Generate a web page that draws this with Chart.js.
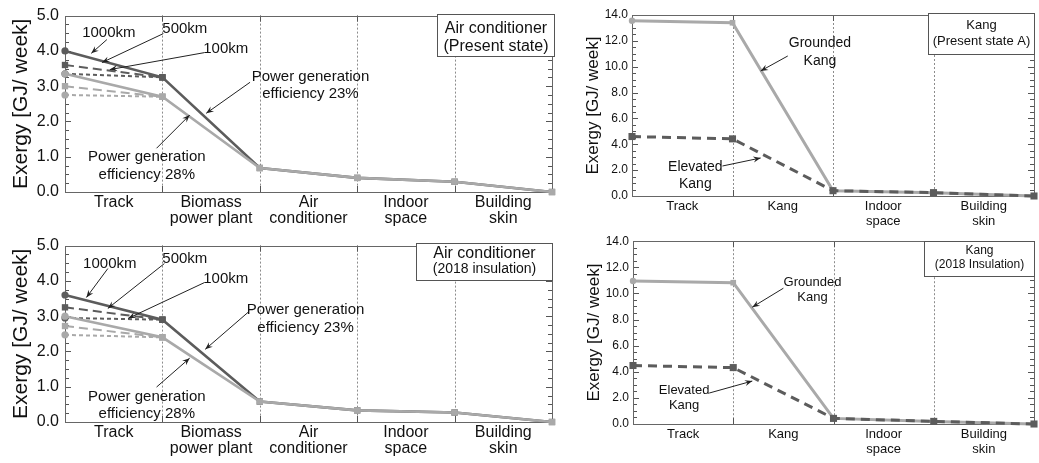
<!DOCTYPE html>
<html><head><meta charset="utf-8">
<script src="https://cdn.jsdelivr.net/npm/chart.js@4/dist/chart.umd.min.js"></script>
<style>
html,body{margin:0;padding:0;background:#fff;}
body{width:1039px;height:463px;position:relative;overflow:hidden;}
.p{position:absolute;}
</style></head><body>
<div class="p" style="left:0;top:0;width:560px;height:230px"><canvas id="c1"></canvas></div>
<div class="p" style="left:560px;top:0;width:479px;height:230px"><canvas id="c2"></canvas></div>
<div class="p" style="left:0;top:230px;width:560px;height:233px"><canvas id="c3"></canvas></div>
<div class="p" style="left:560px;top:230px;width:479px;height:233px"><canvas id="c4"></canvas></div>
<script>
const FONT = "'Liberation Sans', Arial, sans-serif";

// ---- categories ----
const acCategories = ['Track', ['Biomass', 'power plant'], ['Air', 'conditioner'], ['Indoor', 'space'], ['Building', 'skin']];
const kangCategories = ['Track', 'Kang', ['Indoor', 'space'], ['Building', 'skin']];

// ---- Air conditioner (Present state) ----
const acPresent23_1000 = [4.0, 3.25, 0.68, 0.40, 0.29, 0.0];
const acPresent23_500  = [3.6, 3.25];
const acPresent23_100  = [3.35, 3.25];
const acPresent28_1000 = [3.35, 2.7, 0.68, 0.40, 0.29, 0.0];
const acPresent28_500  = [3.0, 2.7];
const acPresent28_100  = [2.75, 2.7];

// ---- Air conditioner (2018 insulation) ----
const ac2018_23_1000 = [3.6, 2.9, 0.58, 0.33, 0.27, 0.0];
const ac2018_23_500  = [3.25, 2.9];
const ac2018_23_100  = [2.95, 2.9];
const ac2018_28_1000 = [3.0, 2.4, 0.58, 0.33, 0.27, 0.0];
const ac2018_28_500  = [2.72, 2.4];
const ac2018_28_100  = [2.47, 2.4];

// ---- Kang ----
const kangPresentGrounded = [13.55, 13.4, 0.41, 0.26, 0.0];
const kangPresentElevated = [4.6, 4.42, 0.41, 0.26, 0.0];
const kang2018Grounded = [10.95, 10.82, 0.43, 0.2, 0.0];
const kang2018Elevated = [4.48, 4.32, 0.43, 0.2, 0.0];

// ---- tick values ----
const acYTicks = [0, 1, 2, 3, 4, 5];
const kangYTicks = [0, 2, 4, 6, 8, 10, 12, 14];

const DARK = '#5c5c5c', LIGHT = '#a9a9a9';

function pts(arr) { return arr.map((v, i) => ({ x: i, y: v })); }
function ds(values, color, width, dash, firstStyle, order, r) {
  return {
    data: pts(values), borderColor: color, backgroundColor: color,
    borderWidth: width, borderDash: dash, order: order,
    pointStyle: values.map((v, i) => i === 0 ? firstStyle : 'rect'),
    pointRadius: values.map((v, i) => (i === 0 && firstStyle === 'circle') ? r * 0.8 : r),
    pointBorderWidth: 0, tension: 0, clip: false, fill: false
  };
}

const decor = {
  id: 'decor',
  beforeDatasetsDraw(chart) {
    const o = chart.options.plugins.decor;
    const { ctx, chartArea: a, scales } = chart;
    const xs = scales.x, ys = scales.y;
    ctx.save();
    ctx.lineWidth = 1;
    ctx.strokeStyle = '#8c8c8c';
    ctx.setLineDash([2, 2]);
    for (let i = 1; i < o.n; i++) {
      const px = Math.round(xs.getPixelForValue(i)) + 0.5;
      ctx.beginPath(); ctx.moveTo(px, a.top); ctx.lineTo(px, a.bottom); ctx.stroke();
    }
    ctx.setLineDash([]);
    ctx.strokeStyle = '#555';
    ctx.beginPath();
    for (let i = 1; i < o.n; i++) {
      const px = Math.round(xs.getPixelForValue(i)) + 0.5;
      ctx.moveTo(px, a.bottom); ctx.lineTo(px, a.bottom - 6);
      ctx.moveTo(px, a.top); ctx.lineTo(px, a.top + 6);
    }
    const steps = Math.round(o.yMax / o.minor);
    for (let k = 0; k <= steps; k++) {
      const v = k * o.minor;
      const py = Math.round(ys.getPixelForValue(v)) + 0.5;
      const major = Math.abs(v / o.major - Math.round(v / o.major)) < 1e-6;
      const len = major ? 6 : 4;
      ctx.moveTo(a.left, py); ctx.lineTo(a.left + len, py);
      ctx.moveTo(a.right, py); ctx.lineTo(a.right - len, py);
    }
    ctx.stroke();
    ctx.strokeStyle = '#666';
    ctx.strokeRect(Math.round(a.left) + 0.5, Math.round(a.top) + 0.5, Math.round(a.right - a.left), Math.round(a.bottom - a.top));
    ctx.restore();
  },
  afterDraw(chart) {
    const o = chart.options.plugins.decor;
    const { ctx, chartArea: a, scales } = chart;
    const xs = scales.x, ys = scales.y;
    ctx.save();
    // label box
    const b = o.box;
    const bl = Math.round(a.right - b.w) + 0.5, bt = Math.round(a.top + b.dy) + 0.5;
    const br = Math.round(a.right + b.dr) + 0.5, bb = Math.round(a.top + b.dy + b.h) + 0.5;
    ctx.fillStyle = '#fff';
    ctx.fillRect(bl, bt, br - bl, bb - bt);
    ctx.strokeStyle = '#555'; ctx.lineWidth = 1;
    ctx.strokeRect(bl, bt, br - bl, bb - bt);
    ctx.fillStyle = '#111'; ctx.textAlign = 'center'; ctx.textBaseline = 'middle';
    b.lines.forEach((ln, i) => {
      ctx.font = b.sizes[i] + 'px ' + FONT;
      ctx.fillText(ln, (bl + br) / 2, a.top + b.ty[i]);
    });
    // annotations
    o.notes.forEach(n => {
      ctx.font = n.size + 'px ' + FONT;
      ctx.fillStyle = '#111';
      const cx = xs.getPixelForValue(n.x), cy = ys.getPixelForValue(n.y);
      n.text.forEach((t, i) => ctx.fillText(t, cx, cy + i * n.lh));
      const x1 = xs.getPixelForValue(n.a[0]), y1 = ys.getPixelForValue(n.a[1]);
      const x2 = xs.getPixelForValue(n.a[2]), y2 = ys.getPixelForValue(n.a[3]);
      ctx.strokeStyle = '#222'; ctx.lineWidth = 1;
      ctx.beginPath(); ctx.moveTo(x1, y1); ctx.lineTo(x2, y2); ctx.stroke();
      const ang = Math.atan2(y2 - y1, x2 - x1), L = 8, s = 0.38;
      ctx.fillStyle = '#222';
      ctx.beginPath();
      ctx.moveTo(x2, y2);
      ctx.lineTo(x2 - L * Math.cos(ang - s), y2 - L * Math.sin(ang - s));
      ctx.lineTo(x2 - L * 0.6 * Math.cos(ang), y2 - L * 0.6 * Math.sin(ang));
      ctx.lineTo(x2 - L * Math.cos(ang + s), y2 - L * Math.sin(ang + s));
      ctx.closePath(); ctx.fill();
    });
    ctx.restore();
  }
};

function makePanel(id, p) {
  const n = p.categories.length;
  return new Chart(document.getElementById(id), {
    type: 'line',
    data: { datasets: p.datasets },
    plugins: [decor],
    options: {
      responsive: true, maintainAspectRatio: false, animation: false, events: [],
      layout: { padding: p.pad },
      plugins: {
        legend: { display: false }, tooltip: { enabled: false },
        decor: { n: n, yMax: p.yMax, major: p.yStep, minor: p.minor, box: p.box, notes: p.notes }
      },
      scales: {
        x: { type: 'linear', min: 0, max: n, display: false },
        xc: {
          type: 'category', position: 'bottom', labels: p.categories, offset: true,
          grid: { display: false, drawTicks: false }, border: { display: false },
          ticks: { color: '#111', padding: p.xPad, maxRotation: 0, autoSkip: false,
                   font: { family: FONT, size: p.xFont, lineHeight: p.xLH } },
          afterFit(s) { s.height = p.xH; }
        },
        y: {
          type: 'linear', min: 0, max: p.yMax,
          afterBuildTicks(s) { s.ticks = p.yTicks.map(v => ({ value: v })); },
          grid: { display: false, drawTicks: false }, border: { display: false },
          ticks: { color: '#111', padding: p.yPad, font: { family: FONT, size: p.yFont },
                   callback: v => Number(v).toFixed(1) },
          title: { display: true, text: 'Exergy [GJ/ week]', color: '#111',
                   font: { family: FONT, size: p.tFont, lineHeight: 1.2 }, padding: { top: p.tPad, bottom: 0 } },
          afterFit(s) { s.width = p.yW; }
        }
      }
    }
  });
}

function acSets(s23, s28) {
  return [
    ds(s28[0], LIGHT, 2.6, [], 'circle', 0, 4.5),
    ds(s28[1], LIGHT, 2, [9, 5], 'rect', 1, 4.5),
    ds(s28[2], LIGHT, 2, [4, 3], 'circle', 2, 4.5),
    ds(s23[0], DARK, 2.6, [], 'circle', 3, 4.5),
    ds(s23[1], DARK, 2, [9, 5], 'rect', 4, 4.5),
    ds(s23[2], DARK, 2, [4, 3], 'circle', 5, 4.5)
  ];
}
function kangSets(g, e) {
  return [
    ds(e, DARK, 3, [9, 6], 'rect', 0, 5),
    ds(g, LIGHT, 3, [], 'circle', 1, 4)
  ];
}

const acCommon = {
  categories: acCategories, yMax: 5, yStep: 1, minor: 0.25, yTicks: acYTicks,
  xFont: 16, xLH: 1.0, xPad: 3, yFont: 16, yPad: 6, tFont: 21, tPad: 9, yW: 65
};
const kangCommon = {
  categories: kangCategories, yMax: 14, yStep: 2, minor: 0.5, yTicks: kangYTicks,
  xFont: 13, xLH: 1.15, xPad: 3, yFont: 12, yPad: 4, tFont: 17
};

makePanel('c1', Object.assign({}, acCommon, {
  pad: { top: 15, right: 8, left: 0, bottom: 0 }, xH: 38,
  datasets: acSets([acPresent23_1000, acPresent23_500, acPresent23_100],
                   [acPresent28_1000, acPresent28_500, acPresent28_100]),
  box: { w: 115, dr: 2, dy: -2, h: 42, lines: ['Air conditioner', '(Present state)'], sizes: [16, 16], ty: [13, 31] },
  notes: [
    { text: ['1000km'], x: 0.45, y: 4.52, size: 15, lh: 18, a: [0.43, 4.32, 0.27, 3.93] },
    { text: ['500km'], x: 1.23, y: 4.63, size: 15, lh: 18, a: [1.01, 4.49, 0.38, 3.67] },
    { text: ['100km'], x: 1.65, y: 4.07, size: 15, lh: 18, a: [1.43, 3.95, 0.46, 3.47] },
    { text: ['Power generation', 'efficiency 23%'], x: 2.52, y: 3.25, size: 15, lh: 17, a: [1.90, 3.11, 1.45, 2.23] },
    { text: ['Power generation', 'efficiency 28%'], x: 0.84, y: 0.99, size: 15, lh: 18, a: [0.94, 1.24, 1.28, 2.18] }
  ]
}));

makePanel('c3', Object.assign({}, acCommon, {
  pad: { top: 15, right: 8, left: 0, bottom: 0 }, xH: 41,
  datasets: acSets([ac2018_23_1000, ac2018_23_500, ac2018_23_100],
                   [ac2018_28_1000, ac2018_28_500, ac2018_28_100]),
  box: { w: 136, dr: 0, dy: -3, h: 37, lines: ['Air conditioner', '(2018 insulation)'], sizes: [16, 14], ty: [8, 24] },
  notes: [
    { text: ['1000km'], x: 0.46, y: 4.49, size: 15, lh: 18, a: [0.44, 4.35, 0.22, 3.53] },
    { text: ['500km'], x: 1.23, y: 4.63, size: 15, lh: 18, a: [1.02, 4.49, 0.44, 3.22] },
    { text: ['100km'], x: 1.65, y: 4.07, size: 15, lh: 18, a: [1.43, 3.95, 0.65, 2.94] },
    { text: ['Power generation', 'efficiency 23%'], x: 2.47, y: 3.19, size: 15, lh: 18, a: [1.88, 3.11, 1.44, 2.06] },
    { text: ['Power generation', 'efficiency 28%'], x: 0.84, y: 0.71, size: 15, lh: 17, a: [0.94, 0.99, 1.28, 1.81] }
  ]
}));

makePanel('c2', Object.assign({}, kangCommon, {
  pad: { top: 15, right: 2, left: 0, bottom: 0 }, xH: 34, yW: 72, tPad: 23,
  datasets: kangSets(kangPresentGrounded, kangPresentElevated),
  box: { w: 106, dr: 0, dy: -2, h: 41, lines: ['Kang', '(Present state A)'], sizes: [13, 13], ty: [10, 26] },
  notes: [
    { text: ['Grounded', 'Kang'], x: 1.87, y: 11.83, size: 14, lh: 18, a: [1.55, 10.83, 1.28, 9.67] },
    { text: ['Elevated', 'Kang'], x: 0.63, y: 2.24, size: 14, lh: 17, a: [0.90, 2.32, 1.28, 2.94] }
  ]
}));

makePanel('c4', Object.assign({}, kangCommon, {
  pad: { top: 11, right: 2, left: 0, bottom: 0 }, xH: 39, yW: 73, tPad: 24,
  datasets: kangSets(kang2018Grounded, kang2018Elevated),
  box: { w: 110, dr: 0, dy: 0, h: 35, lines: ['Kang', '(2018 Insulation)'], sizes: [12, 12], ty: [9, 23] },
  notes: [
    { text: ['Grounded', 'Kang'], x: 1.79, y: 10.86, size: 13, lh: 15, a: [1.50, 10.4, 1.19, 8.95] },
    { text: ['Elevated', 'Kang'], x: 0.51, y: 2.6, size: 13, lh: 15, a: [0.76, 2.37, 1.19, 3.29] }
  ]
}));
</script>
</body></html>
